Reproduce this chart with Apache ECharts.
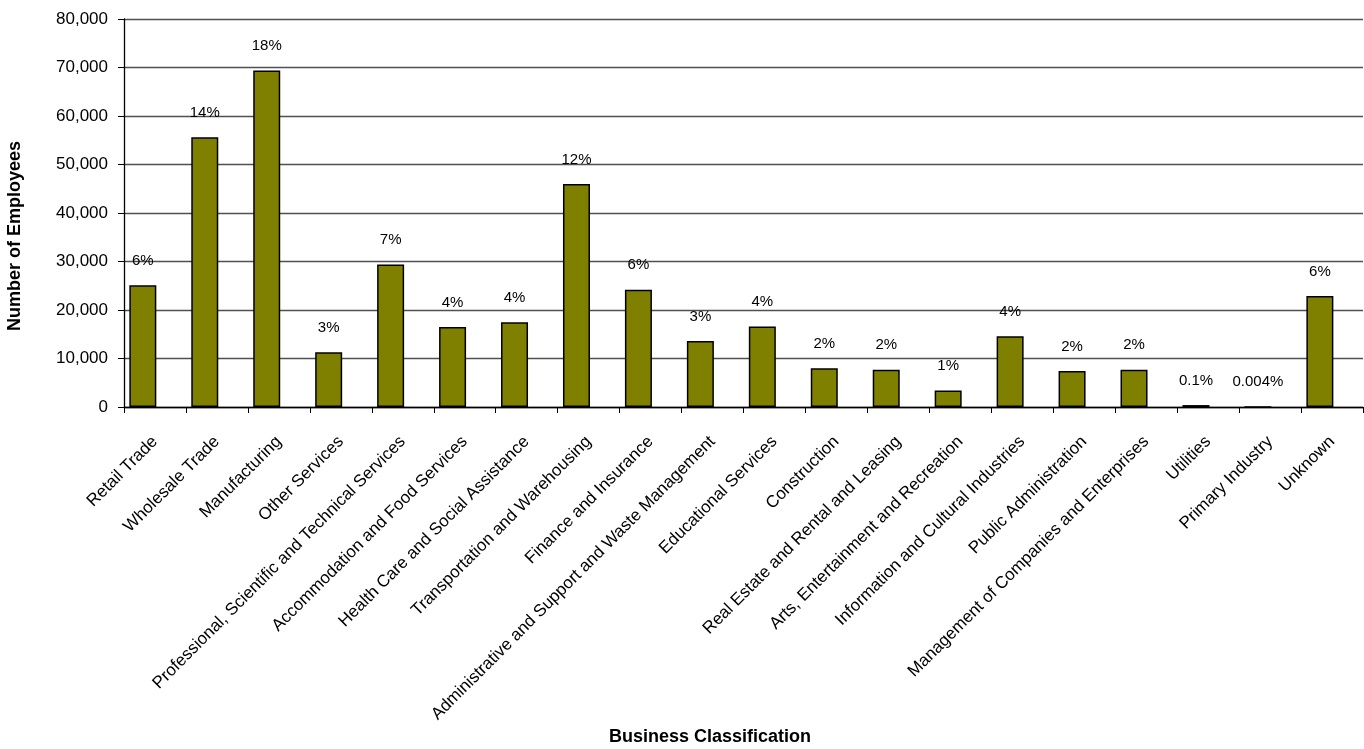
<!DOCTYPE html>
<html>
<head>
<meta charset="utf-8">
<script src="https://cdn.jsdelivr.net/npm/echarts@6/dist/echarts.min.js"></script>
<style>html,body{margin:0;padding:0;background:#fff;}#chart{width:1364px;height:749px;}</style>
</head>
<body>
<div id="chart"></div>
<script>
const categories = [
  'Retail Trade', 'Wholesale Trade', 'Manufacturing', 'Other Services',
  'Professional, Scientific and Technical Services', 'Accommodation and Food Services',
  'Health Care and Social Assistance', 'Transportation and Warehousing',
  'Finance and Insurance', 'Administrative and Support and Waste Management',
  'Educational Services', 'Construction', 'Real Estate and Rental and Leasing',
  'Arts, Entertainment and Recreation', 'Information and Cultural Industries',
  'Public Administration', 'Management of Companies and Enterprises',
  'Utilities', 'Primary Industry', 'Unknown'
];
const employees = [25100, 55600, 69400, 11300, 29400, 16500, 17500, 46000, 24200, 13600,
  16600, 8000, 7700, 3400, 14600, 7400, 7700, 400, 16, 22900];
const shareLabels = ['6%', '14%', '18%', '3%', '7%', '4%', '4%', '12%', '6%', '3%',
  '4%', '2%', '2%', '1%', '4%', '2%', '2%', '0.1%', '0.004%', '6%'];
const yTicks = { min: 0, max: 80000, interval: 10000 };

const FONT = '"Liberation Sans", Arial, sans-serif';
const chart = echarts.init(document.getElementById('chart'));
chart.setOption({
  animation: false,
  backgroundColor: '#ffffff',
  textStyle: { fontFamily: FONT, color: '#000' },
  grid: { left: 124, right: 1, top: 19, bottom: 342, containLabel: false },
  xAxis: {
    type: 'category',
    data: categories,
    boundaryGap: true,
    axisLine: { lineStyle: { color: '#000', width: 1.3 } },
    axisTick: { show: true, length: 6, lineStyle: { color: '#000' } },
    axisLabel: { rotate: 45, interval: 0, margin: 32, fontSize: 17, color: '#000', fontFamily: FONT }
  },
  yAxis: {
    type: 'value',
    min: yTicks.min, max: yTicks.max, interval: yTicks.interval,
    axisLine: { show: true, lineStyle: { color: '#000', width: 1.3 } },
    axisTick: { show: true, length: 6, lineStyle: { color: '#000' } },
    axisLabel: { fontSize: 17, color: '#000', margin: 16, fontFamily: FONT },
    splitLine: { show: true, lineStyle: { color: '#505050', width: 1.3 } }
  },
  graphic: [
    { type: 'text', x: 710, y: 737, style: { text: 'Business Classification', fontSize: 18, fontWeight: 'bold', fontFamily: FONT, fill: '#000', textAlign: 'center', textVerticalAlign: 'middle' } },
    { type: 'text', x: 15, y: 236, rotation: Math.PI / 2, style: { text: 'Number of Employees', fontSize: 18, fontWeight: 'bold', fontFamily: FONT, fill: '#000', textAlign: 'center', textVerticalAlign: 'middle' } }
  ],
  series: [
    {
      type: 'bar',
      data: employees,
      barWidth: 27,
      barGap: '-10%',
      itemStyle: { color: '#808000', borderColor: '#000', borderWidth: 1.5 },
      label: {
        show: true, position: 'top', distance: 17, fontSize: 15, color: '#000', fontFamily: FONT,
        formatter: p => shareLabels[p.dataIndex]
      }
    },
    {
      type: 'bar',
      data: categories.map(() => null),
      barWidth: 27,
      itemStyle: { color: 'transparent' },
      silent: true
    }
  ]
});
</script>
</body>
</html>
